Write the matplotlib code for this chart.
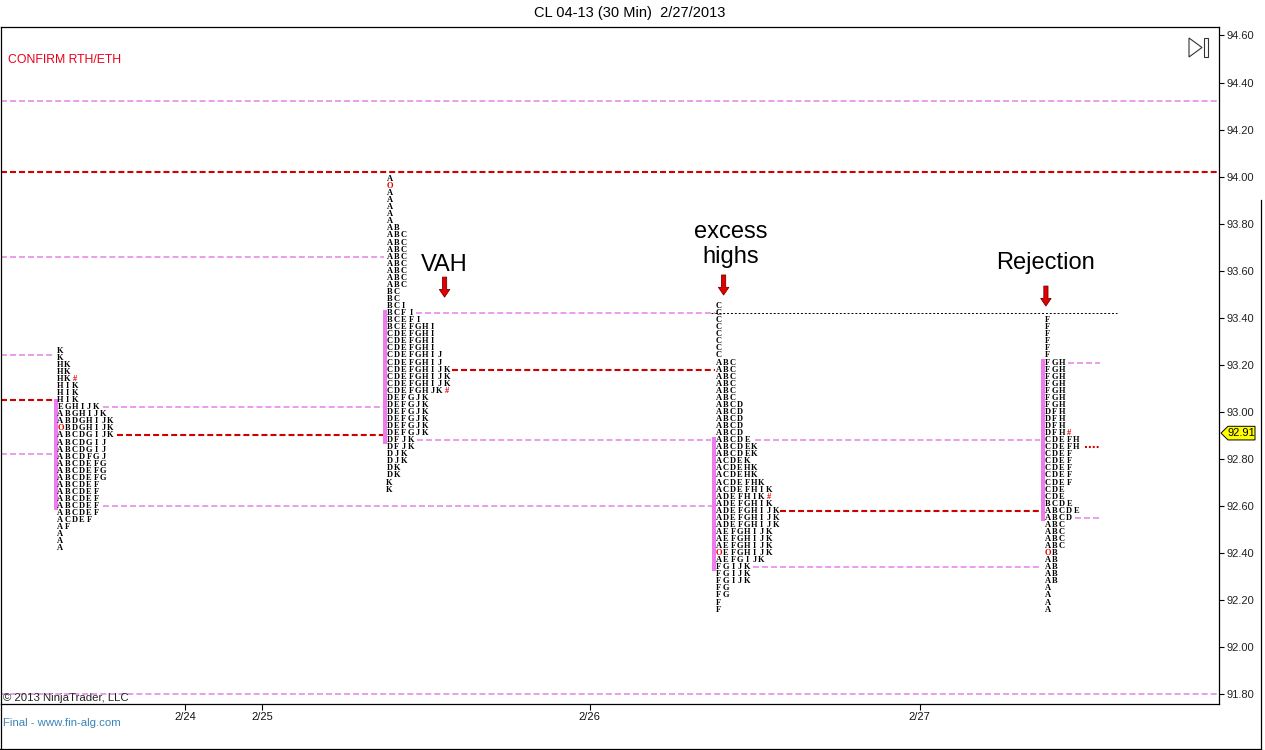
import numpy as np
import matplotlib.pyplot as plt
from matplotlib.patches import Polygon
from matplotlib.lines import Line2D
import matplotlib.transforms as mtransforms

plt.rcParams['lines.scale_dashes'] = False

# TPO-Zeilen je Session (von oben nach unten), O = Open, # = Close
profile1_rows = ["K", "K", "HK", "HK", "HK#", "HIK", "HIK", "HIK", "EGHIJK", "ABGHIJK",
                 "ABDGHIJK", "OBDGHIJK", "ABCDGIJK", "ABCDGIJ", "ABCDGIJ", "ABCDFGJ",
                 "ABCDEFG", "ABCDEFG", "ABCDEFG", "ABCDEF", "ABCDEF", "ABCDEF", "ABCDEF",
                 "ABCDEF", "ACDEF", "AF", "A", "A", "A"]
profile2_rows = (["A", "O"] + ["A"] * 5 + ["AB"] + ["ABC"] * 8 + ["BC"] * 2 +
                 ["BCI", "BCFI", "BCEFI", "BCEFGHI"] + ["CDEFGHI"] * 3 + ["CDEFGHIJ"] * 2 +
                 ["CDEFGHIJK"] * 3 + ["CDEFGHJK#"] + ["DEFGJK"] * 6 +
                 ["DFJK"] * 2 + ["DJK"] * 2 + ["DK"] * 2 + ["K"] * 2)
profile3_rows = (["C"] * 8 + ["ABC"] * 6 + ["ABCD"] * 5 +
                 ["ABCDE", "ABCDEK", "ABCDEK", "ACDEK", "ACDEHK", "ACDEHK", "ACDEFHK",
                  "ACDEFHIK", "ADEFHIK#", "ADEFGHIK"] + ["ADEFGHIJK"] * 3 +
                 ["AEFGHIJK"] * 3 + ["OEFGHIJK", "AEFGIJK"] + ["FGIJK"] * 3 +
                 ["FG"] * 2 + ["F"] * 2)
profile4_rows = (["F"] * 6 + ["FGH"] * 7 + ["DFH"] * 3 + ["DFH#"] + ["CDEFH"] * 2 +
                 ["CDEF"] * 5 + ["CDE"] * 2 + ["BCDE", "ABCDE", "ABCD"] + ["ABC"] * 4 +
                 ["OB"] + ["AB"] * 4 + ["A"] * 4)
profiles = [profile1_rows, profile2_rows, profile3_rows, profile4_rows]

profile_top = [93.26, 93.99, 93.45, 93.39]      # Preis der obersten Zeile
profile_start = [8.3, 54.3, 100.3, 146.3]       # erste Spalte (30-Min-Bars)
row_step = 0.03

# Value Area je Session
va_high = [93.04, 93.42, 92.88, 93.21]
va_low = [92.60, 92.88, 92.34, 92.55]

# Linien: Preis, von, bis (in Bars), Art
level_price = [94.32, 94.02, 93.66, 93.24, 93.05, 92.82, 93.02, 92.90, 92.60, 93.42,
               93.18, 92.88, 92.88, 93.42, 92.58, 92.34, 93.21, 92.85, 92.55, 91.80]
level_from = [0, 0, 0, 0, 0, 0, 14.2, 16.15, 14.2, 58.0,
              63.0, 58.2, 105.4, 99.2, 108.85, 105.1, 149.1, 151.5, 150.1, 0]
level_to = [170.2, 170.2, 53.6, 7.5, 7.5, 7.1, 53.6, 53.9, 99.8, 99.8,
            99.8, 99.3, 145.2, 156.0, 145.2, 145.2, 153.6, 153.6, 153.6, 170.2]
level_kind = ['pink', 'red', 'pink', 'pink', 'red', 'pink', 'pink', 'red', 'pink', 'pink',
              'red', 'pink', 'pink', 'black', 'red', 'pink', 'pink', 'reddot', 'pink', 'pink']

date_pos = [25.75, 36.5, 82.3, 128.4]
date_labels = ['2/24', '2/25', '2/26', '2/27']

last_price = 92.91

# Anmerkungen: Text, x, y, Pfeil-x, Pfeil von, Pfeil bis
notes = ['VAH', 'excess\nhighs', 'Rejection']
note_x = [61.9, 102.0, 146.05]
note_y = [93.625, 93.713, 93.633]
arrow_x = [62.0, 101.0, 146.05]
arrow_tail = [93.573, 93.582, 93.535]
arrow_tip = [93.488, 93.497, 93.45]

W, H = 1265, 750
fig = plt.figure(figsize=(W / 100, H / 100), dpi=100)
ax = fig.add_axes([1 / W, 46 / H, 1217.7 / W, 677 / H])
ax.set_xlim(0, 170.2)
ax.set_ylim(91.7588, 94.636)

styles = {
    'pink': dict(color='#E383E3', lw=1.1, dashes=(4.3, 2.2)),
    'red': dict(color='#D00000', lw=1.5, dashes=(4.3, 2.2)),
    'black': dict(color='black', lw=0.7, dashes=(1.4, 1.4)),
    'reddot': dict(color='#D00000', lw=1.5, dashes=(1.4, 1.4)),
}
for p, x0, x1, k in zip(level_price, level_from, level_to, level_kind):
    ax.plot([x0, x1], [p, p], zorder=2, solid_capstyle='butt', **styles[k])

# Value-Area-Balken
bar_x = np.array(profile_start) - 0.65
bar_low = np.array(va_low) - 0.015
bar_high = np.array(va_high) + 0.015
ax.bar(bar_x, bar_high - bar_low, bottom=bar_low, width=0.5, color='#EE7CEE', zorder=3)

# TPO-Buchstaben
for rows, top, x0 in zip(profiles, profile_top, profile_start):
    for i, row in enumerate(rows):
        y = top - i * row_step
        for j, ch in enumerate(row):
            col = '#E00000' if ch in 'O#' else 'black'
            ax.text(x0 + j, y, ch, fontsize=6.0, fontweight='bold', family='Liberation Serif',
                    color=col, ha='center', va='center', zorder=4)

# Anmerkungen mit Pfeilen
for t, x, y in zip(notes, note_x, note_y):
    ax.text(x, y, t, fontsize=17, family='Liberation Sans', ha='center', va='center',
            linespacing=1.17, zorder=5)
for x, y0, y1 in zip(arrow_x, arrow_tail, arrow_tip):
    ax.annotate('', xy=(x, y1), xytext=(x, y0),
                arrowprops=dict(arrowstyle='simple,head_length=0.55,head_width=0.75,tail_width=0.3',
                                fc='#E00000', ec='#7A0000', lw=0.6, shrinkA=0, shrinkB=0,
                                mutation_scale=10), zorder=5)

# Achsen
ax.yaxis.tick_right()
ax.set_yticks(np.arange(91.8, 94.61, 0.2))
ax.set_yticklabels(['%.2f' % v for v in np.arange(91.8, 94.61, 0.2)])
ax.set_xticks(date_pos)
ax.set_xticklabels(date_labels)
ax.tick_params(axis='y', direction='out', length=3.6, width=0.8, labelsize=8, pad=2,
               labelcolor='#222222')
ax.tick_params(axis='x', direction='out', length=4.3, width=0.8, labelsize=8, pad=1.5,
               labelcolor='#111111')
for lab in ax.get_xticklabels() + ax.get_yticklabels():
    lab.set_family('Liberation Sans')
for s in ax.spines.values():
    s.set_linewidth(0.9)

# letzter Kurs (gelbe Marke)
tr = mtransforms.blended_transform_factory(fig.transFigure, ax.transData)
hh = 0.029
tag = Polygon([(1221 / W, last_price), (1228 / W, last_price + hh), (1255 / W, last_price + hh),
               (1255 / W, last_price - hh), (1228 / W, last_price - hh)], closed=True,
              fc='#FFFF00', ec='black', lw=0.7, transform=tr, clip_on=False, zorder=6)
ax.add_patch(tag)
ax.text(1241.5 / W, last_price, '%.2f' % last_price, transform=tr, fontsize=8,
        family='Liberation Sans', ha='center', va='center', zorder=7, clip_on=False)

# Texte
fig.text(630 / W, 1 - 13 / H, 'CL 04-13 (30 Min)  2/27/2013', fontsize=10.5,
         family='Liberation Sans', ha='center', va='center')
fig.text(8 / W, 1 - 60 / H, 'CONFIRM RTH/ETH', fontsize=8.8, color='#E8001C',
         family='Liberation Sans', ha='left', va='center')
fig.text(3 / W, 1 - 698 / H, '\u00a9 2013 NinjaTrader, LLC', fontsize=8.2, color='#222222',
         family='Liberation Sans', ha='left', va='center')
fig.text(3 / W, 1 - 723 / H, 'Final - www.fin-alg.com', fontsize=8.2, color='#3A84B8',
         family='Liberation Sans', ha='left', va='center')

# Symbol oben rechts und Rahmen
def px(x, y):
    return x / W, 1 - y / H

tri = Polygon([px(1189, 38), px(1189, 57), px(1202, 47.5)], closed=True, fill=False,
              ec='#333333', lw=0.8, transform=fig.transFigure)
rect = Polygon([px(1204, 38), px(1208, 38), px(1208, 57), px(1204, 57)], closed=True,
               fill=False, ec='#333333', lw=0.8, transform=fig.transFigure)
fig.add_artist(tri)
fig.add_artist(rect)
for xs, ys in [((0.5, 0.5), (704, 749)), ((0, 1261), (749, 749)), ((1261, 1261), (200, 749))]:
    fig.add_artist(Line2D([x / W for x in xs], [1 - y / H for y in ys], color='black',
                          lw=0.9, transform=fig.transFigure))

fig.savefig('out.png', dpi=100)
